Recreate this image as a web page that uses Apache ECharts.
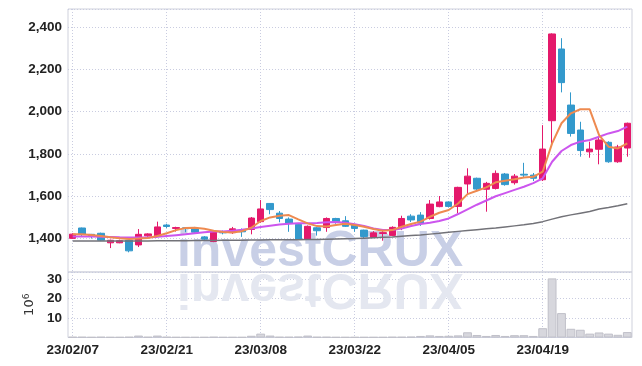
<!DOCTYPE html>
<html>
<head>
<meta charset="utf-8">
<script src="https://cdn.jsdelivr.net/npm/echarts@6/dist/echarts.min.js"></script>
<style>html,body{margin:0;padding:0;background:#fff;}#c{width:642px;height:366px;}</style>
</head>
<body>
<div id="c"></div>
<script>
const dates = ['23/02/07','23/02/08','23/02/09','23/02/10','23/02/13','23/02/14','23/02/15','23/02/16','23/02/17','23/02/20',
'23/02/21','23/02/22','23/02/23','23/02/24','23/02/27','23/02/28','23/03/02','23/03/03','23/03/06','23/03/07',
'23/03/08','23/03/09','23/03/10','23/03/13','23/03/14','23/03/15','23/03/16','23/03/17','23/03/20','23/03/21',
'23/03/22','23/03/23','23/03/24','23/03/27','23/03/28','23/03/29','23/03/30','23/03/31','23/04/03','23/04/04',
'23/04/05','23/04/06','23/04/07','23/04/10','23/04/11','23/04/12','23/04/13','23/04/14','23/04/17','23/04/18',
'23/04/19','23/04/20','23/04/21','23/04/24','23/04/25','23/04/26','23/04/27','23/04/28','23/05/02','23/05/03'];

// [open, close, low, high]
const ohlc = [
[1401,1421,1398,1425],[1450,1420,1408,1452],[1420,1410,1400,1422],[1425,1392,1388,1428],[1380,1392,1355,1395],
[1380,1390,1378,1395],[1392,1342,1335,1395],[1370,1420,1360,1445],[1413,1422,1408,1425],[1413,1455,1410,1480],
[1464,1457,1450,1470],[1448,1452,1433,1456],[1451,1446,1430,1453],[1446,1430,1425,1455],[1408,1397,1393,1412],
[1386,1432,1383,1435],[1432,1427,1420,1438],[1428,1446,1422,1455],[1438,1432,1408,1448],[1443,1497,1420,1502],
[1480,1540,1475,1582],[1566,1537,1515,1568],[1520,1495,1477,1530],[1492,1473,1432,1500],[1467,1397,1396,1470],
[1398,1458,1396,1462],[1451,1437,1414,1455],[1452,1495,1432,1500],[1495,1480,1470,1498],[1484,1458,1455,1506],
[1465,1448,1432,1467],[1440,1410,1400,1442],[1405,1427,1403,1435],[1424,1428,1390,1440],[1415,1453,1412,1458],
[1456,1495,1440,1508],[1506,1488,1478,1515],[1511,1473,1460,1525],[1495,1563,1490,1582],[1551,1573,1548,1601],
[1573,1552,1548,1575],[1552,1642,1520,1645],[1658,1695,1606,1732],[1685,1634,1625,1688],[1633,1661,1527,1668],
[1637,1708,1632,1722],[1705,1655,1650,1710],[1664,1695,1655,1705],[1704,1700,1690,1758],[1700,1685,1672,1710],
[1678,1823,1672,1936],[1957,2367,1850,2370],[2296,2137,2091,2347],[2031,1897,1882,2091],[1913,1816,1787,1952],
[1810,1823,1782,1858],[1822,1866,1751,1880],[1855,1763,1758,1860],[1763,1833,1758,1843],[1828,1945,1787,1948]];

const ma5 = [1421,1420,1417,1412,1406,1401,1398,1400,1403,1412,
1425,1440,1450,1451,1446,1437,1431,1429,1435,1451,
1483,1500,1508,1511,1491,1472,1459,1457,1464,1470,
1464,1456,1445,1437,1440,1456,1469,1480,1503,1522,
1535,1566,1610,1626,1642,1666,1673,1680,1689,1692,
1716,1850,1945,1992,2011,2011,1889,1834,1826,1850];

const ma20 = [1410,1410,1410,1409,1408,1406,1405,1405,1406,1408,
1412,1416,1420,1425,1430,1433,1434,1437,1442,1448,
1455,1461,1466,1470,1472,1472,1474,1477,1478,1475,
1468,1459,1448,1440,1440,1448,1459,1469,1475,1483,
1495,1516,1538,1560,1580,1600,1615,1630,1645,1662,
1685,1763,1814,1842,1858,1866,1881,1897,1908,1929];

const maLong = [1388,1388,1388,1388,1388,1389,1389,1389,1389,1390,
1390,1390,1390,1391,1391,1391,1392,1392,1392,1393,
1393,1394,1394,1395,1395,1396,1396,1397,1398,1399,
1400,1402,1404,1406,1408,1411,1414,1417,1421,1425,
1430,1434,1438,1442,1446,1450,1455,1460,1465,1471,
1480,1492,1503,1512,1520,1528,1540,1547,1555,1565];

const volume = [0.3,0.3,0.2,0.3,0.2,0.2,0.3,1.0,0.3,1.0,
0.3,0.2,0.2,0.2,0.2,0.3,0.2,0.2,0.2,0.9,
2.0,1.0,0.3,0.3,0.4,1.0,0.3,0.3,0.2,0.2,
0.2,0.2,0.2,0.2,0.3,0.3,0.4,0.8,1.1,0.8,
0.9,1.1,2.7,1.3,0.8,1.3,0.8,1.2,1.2,0.8,
4.8,30.5,12.6,4.5,4.0,2.0,2.6,2.0,1.4,2.8];

const priceMin = 1242, priceMax = 2485;
const volMax = 33.8;

const labelFont = {color:'#222', fontFamily:'"Liberation Sans", Arial, sans-serif', fontWeight:'bold', fontSize:13.5};
const gridDot = {show:true, lineStyle:{color:'#c9cce0', type:[1,2], width:1}};

const chart = echarts.init(document.getElementById('c'), null, {renderer:'canvas'});
const wmBase = 270; // watermark baseline
const wmFont = 'bold 50px "Liberation Sans", Arial, sans-serif';
const off = 7.7;
chart.setOption({
  animation:false,
  backgroundColor:'#fff',
  grid:[
    {left:68, right:10, top:9, height:263, show:true, borderColor:'#cfd1dc', borderWidth:1},
    {left:68, right:10, top:272, height:65.5, show:true, borderColor:'#cfd1dc', borderWidth:1}
  ],
  graphic:[
    {type:'text', x:320, y:wmBase+off, z:1, silent:true,
     style:{text:'investCRUX', font:wmFont, fill:'#c8cfe6', align:'center', verticalAlign:'bottom'}},
    {type:'text', x:320, y:wmBase+off, z:1, silent:true, scaleY:-1, originY:-off,
     style:{text:'investCRUX', font:wmFont, fill:'#e4e7f0', align:'center', verticalAlign:'bottom'}}
  ],
  xAxis:[
    {type:'category', gridIndex:0, data:dates, boundaryGap:true,
     axisLine:{show:false}, axisTick:{show:false}, axisLabel:{show:false},
     splitLine:Object.assign({interval:9, alignWithLabel:true}, gridDot)},
    {type:'category', gridIndex:1, data:dates, boundaryGap:true,
     axisLine:{show:false}, axisTick:{show:false, alignWithLabel:true},
     axisLabel:Object.assign({interval:9, margin:6}, labelFont),
     splitLine:Object.assign({interval:9, alignWithLabel:true}, gridDot)}
  ],
  yAxis:[
    {type:'value', gridIndex:0, min:priceMin, max:priceMax, scale:true,
     axisLine:{show:false}, axisTick:{show:false},
     axisLabel:Object.assign({margin:6, showMinLabel:false, showMaxLabel:false,
       formatter:v=>v.toLocaleString('en-US')}, labelFont),
     splitLine:gridDot},
    {type:'value', gridIndex:1, min:0, max:volMax, interval:10,
     axisLine:{show:false}, axisTick:{show:false},
     axisLabel:Object.assign({margin:6, showMinLabel:false, showMaxLabel:false}, labelFont),
     splitLine:gridDot,
     name:'{a|10}{b|6}', nameLocation:'middle', nameRotate:90, nameGap:19,
     nameTextStyle:{color:'#333', fontFamily:'"DejaVu Sans", sans-serif',
       rich:{a:{fontSize:13, color:'#333', fontFamily:'"DejaVu Sans", sans-serif'},
             b:{fontSize:9, color:'#333', verticalAlign:'top', padding:[0,0,6,0], fontFamily:'"DejaVu Sans", sans-serif'}}}}
  ],
  series:[
    {type:'candlestick', xAxisIndex:0, yAxisIndex:0, data:ohlc, barWidth:7, z:3,
     itemStyle:{color:'#e4196b', color0:'#3399cc', borderColor:'#e4196b', borderColor0:'#3399cc', borderWidth:1}},
    {type:'line', xAxisIndex:0, yAxisIndex:0, data:maLong, symbol:'none', z:4,
     lineStyle:{color:'#727278', width:1.5}},
    {type:'line', xAxisIndex:0, yAxisIndex:0, data:ma20, symbol:'none', z:4,
     lineStyle:{color:'#cc55ee', width:2}},
    {type:'line', xAxisIndex:0, yAxisIndex:0, data:ma5, symbol:'none', z:5,
     lineStyle:{color:'#ee8a50', width:2}},
    {type:'bar', xAxisIndex:1, yAxisIndex:1, data:volume, barCategoryGap:'6%', z:3,
     itemStyle:{color:'#d7d7dd', borderColor:'#c0c0c9', borderWidth:1}}
  ]
});
</script>
</body>
</html>
